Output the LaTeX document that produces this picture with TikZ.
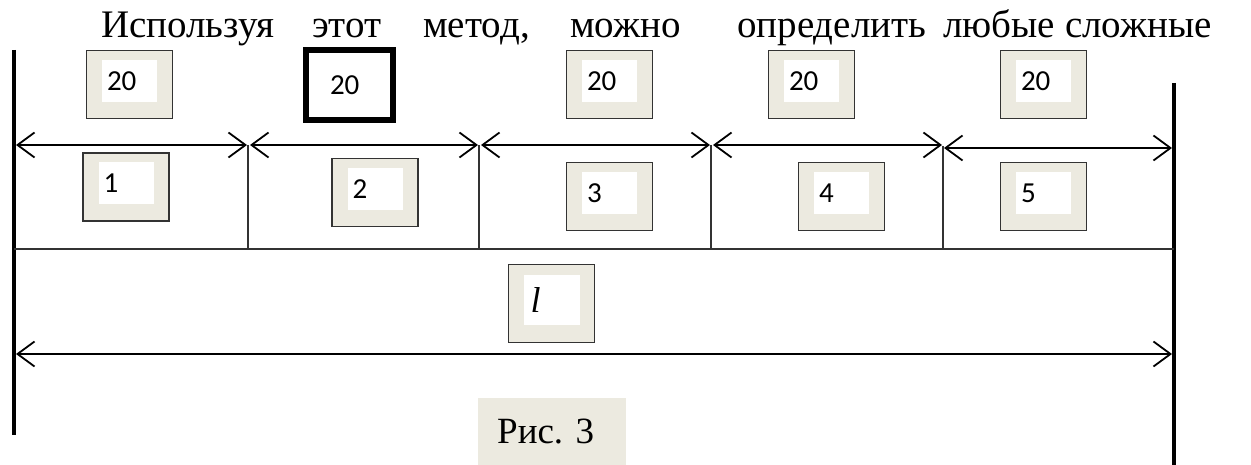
\documentclass[tikz,border=0pt]{standalone}
\usepackage{fontspec}
\setmainfont{Liberation Serif}
\newfontfamily\calib{Carlito}
\usetikzlibrary{arrows.meta}
\definecolor{beige}{HTML}{ECEAE0}
\definecolor{edge}{HTML}{333333}
\begin{document}
\begin{tikzpicture}[x=1pt,y=-1pt,
  gbox/.style={draw=edge, line width=1.2pt, fill=beige, minimum width=86pt, minimum height=68pt, inner sep=0pt},
  wbox/.style={fill=white, minimum height=42pt, text width=45pt, inner xsep=5pt, inner ysep=0pt, align=left,
    font=\calib\fontsize{29}{30}\selectfont},
  tbox/.style={draw=black, line width=6pt, fill=white, minimum width=87pt, minimum height=70pt,
    text width=39pt, inner xsep=24pt, inner ysep=0pt, align=left, font=\calib\fontsize{29}{30}\selectfont},
  word/.style={anchor=base west, inner sep=0pt, font=\fontsize{39}{42}\selectfont},
  dim/.style={line width=1.8pt, {Straight Barb[length=17pt,width=25pt]}-{Straight Barb[length=17pt,width=25pt]}},
  thick line/.style={line width=4.5pt},
  thin line/.style={draw=edge, line width=1.4pt}]
\useasboundingbox (0,0) rectangle (1251,465);

% title words
\node[word] (w1) at (101,38) {Используя};
\node[word] (w2) at (312,38) {этот};
\node[word] (w3) at (423,38) {метод,};
\node[word] (w4) at (570,38) {можно};
\node[word] (w5) at (737,38) {определить};
\node[word] (w6) at (943,38) {любые};
\node[word] (w7) at (1065,38) {сложные};

% thick boundary lines
\coordinate (lt) at (14,50);
\coordinate (lb) at (14,435);
\coordinate (rt) at (1174,83);
\coordinate (rb) at (1174,465);
\draw[thick line] (lt) -- (lb);
\draw[thick line] (rt) -- (rb);

% top boxes "20"
\node[gbox] (t1) at (129.5,84.5) {};
\node[wbox, yshift=3.5pt] (t1i) at (t1) {20};
\node[tbox] (t2) at (349.5,85) {20};
\node[gbox] (t3) at (609.5,84.5) {};
\node[wbox, yshift=3.5pt] (t3i) at (t3) {20};
\node[gbox] (t4) at (811.5,84.5) {};
\node[wbox, yshift=3.5pt] (t4i) at (t4) {20};
\node[gbox] (t5) at (1043.5,84.5) {};
\node[wbox, yshift=3.5pt] (t5i) at (t5) {20};

% dividers
\coordinate (d1t) at (248,145); \coordinate (d1b) at (248,249);
\coordinate (d2t) at (479,145); \coordinate (d2b) at (479,249);
\coordinate (d3t) at (711,145); \coordinate (d3b) at (711,249);
\coordinate (d4t) at (943,146); \coordinate (d4b) at (943,249);
\draw[thin line] (d1t) -- (d1b);
\draw[thin line] (d2t) -- (d2b);
\draw[thin line] (d3t) -- (d3b);
\draw[thin line] (d4t) -- (d4b);
\coordinate (hl) at (14,249); \coordinate (hr) at (1174,249);
\draw[thin line] (hl) -- (hr);

% segment arrows
\coordinate (a1l) at (16,145);  \coordinate (a1r) at (247,145);
\coordinate (a2l) at (250,145); \coordinate (a2r) at (478,145);
\coordinate (a3l) at (481,145); \coordinate (a3r) at (710,145);
\coordinate (a4l) at (713,145); \coordinate (a4r) at (942,145);
\coordinate (a5l) at (944,148); \coordinate (a5r) at (1172,148);
\draw[dim] (a1l) -- (a1r);
\draw[dim] (a2l) -- (a2r);
\draw[dim] (a3l) -- (a3r);
\draw[dim] (a4l) -- (a4r);
\draw[dim] (a5l) -- (a5r);

% number boxes
\node[gbox] (n1) at (126,187) {};
\node[wbox, yshift=3.5pt] (n1i) at (n1) {1};
\node[gbox] (n2) at (375,192.5) {};
\node[wbox, yshift=3.5pt] (n2i) at (n2) {2};
\node[gbox] (n3) at (609.5,196.5) {};
\node[wbox, yshift=3.5pt] (n3i) at (n3) {3};
\node[gbox] (n4) at (841.5,196.5) {};
\node[wbox, yshift=3.5pt] (n4i) at (n4) {4};
\node[gbox] (n5) at (1043.5,196.5) {};
\node[wbox, yshift=3.5pt] (n5i) at (n5) {5};

% total length box
\node[gbox, minimum height=78pt] (lbox) at (551.5,303.5) {};
\node[fill=white, minimum height=50pt, text width=42pt, inner xsep=7pt, inner ysep=0pt, align=left,
  yshift=3.5pt, font=\fontsize{36}{40}\selectfont] (lboxi) at (lbox) {\textit{l}};

\coordinate (ll) at (16,354); \coordinate (lr) at (1172,354);
\draw[dim] (ll) -- (lr);

% caption
\node[fill=beige, minimum width=148pt, minimum height=67pt, inner sep=0pt] (capbox) at (552,431.5) {};
\node[anchor=base west, inner sep=0pt, font=\fontsize{37}{40}\selectfont] (cap) at (497,443) {Рис. 3};
\end{tikzpicture}
\end{document}
